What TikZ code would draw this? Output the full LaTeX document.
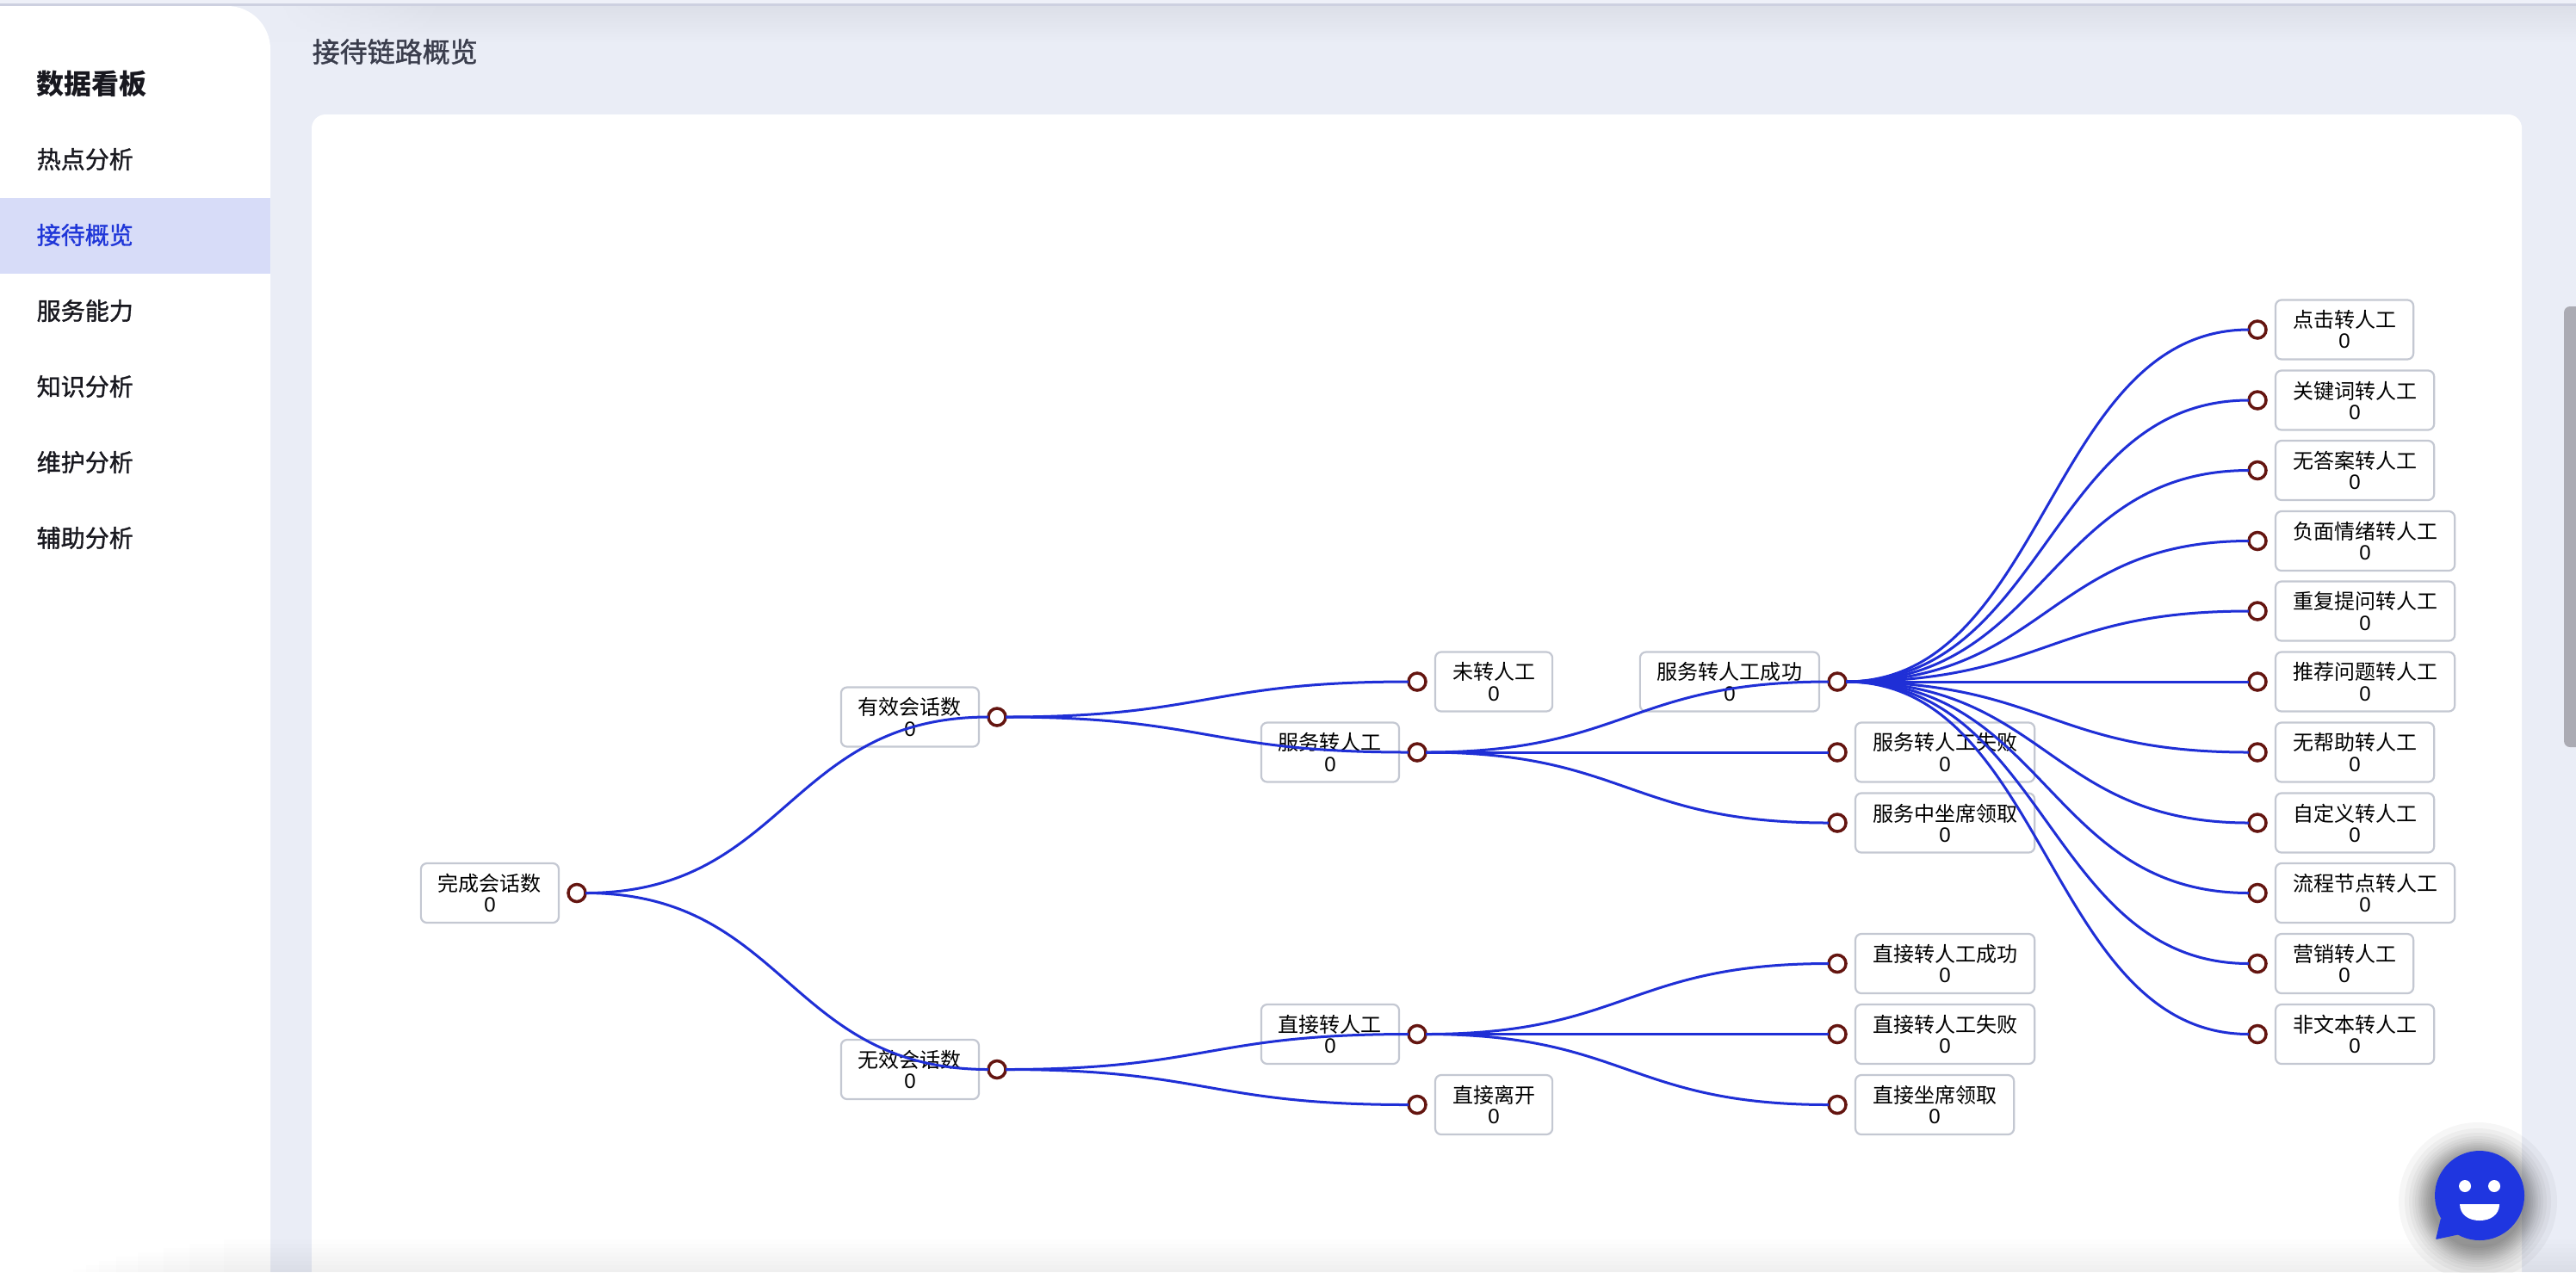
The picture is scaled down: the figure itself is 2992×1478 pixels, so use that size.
\documentclass[tikz,border=0pt]{standalone}
\usepackage{fontspec}
\setmainfont{Liberation Sans}
\newfontfamily\cjk{Noto Sans CJK SC}
\newfontfamily\cjkmed[FakeBold=1.2]{Noto Sans CJK SC}
\usepackage{tikz}
\usetikzlibrary{fadings}

\definecolor{pagebg}{HTML}{EAEDF6}
\definecolor{toplight}{HTML}{EEF0F8}
\definecolor{topline}{HTML}{CDD0E0}
\definecolor{topshade}{HTML}{DCDFE8}
\definecolor{barcol}{HTML}{ABABB3}
\definecolor{linkblue}{HTML}{1F2FD6}
\definecolor{dotred}{HTML}{641510}
\definecolor{boxgrey}{HTML}{C4C8D2}
\definecolor{activebg}{HTML}{D7DCF8}
\definecolor{activeblue}{HTML}{1F36D8}
\definecolor{iconblue}{HTML}{1F36E0}
\definecolor{menuink}{HTML}{18181F}
\definecolor{titleink}{HTML}{3A3D4C}

\newcommand{\zerotxt}{{\rmfamily 0}}

\tikzset{
    dot/.style={circle, draw=dotred, fill=white, line width=0.035cm, minimum size=0.2cm, inner sep=0pt, outer sep=0pt},
    tag/.style={rectangle, draw=boxgrey, line width=0.022cm, rounded corners=0.07cm, minimum height=0.69cm, inner xsep=0.2cm, inner ysep=0pt, outer sep=0pt, align=center, font=\fontsize{6.83pt}{6.83pt}\selectfont\cjk, text=black},
    link/.style={draw=linkblue, line width=0.03cm},
    menu/.style={anchor=west, inner sep=0pt, font=\fontsize{7.97pt}{9pt}\selectfont\cjkmed, text=menuink},
}

\begin{document}
\begin{tikzpicture}[x=0.01cm, y=-0.01cm]

    \useasboundingbox (0,0) rectangle (2992,1478);

    % page
    \fill[pagebg] (0,0) rectangle (2992,1478);
    \fill[toplight] (0,0) rectangle (2992,4);
    \fill[topline] (0,4) rectangle (2992,7);
    \shade[top color=topshade, bottom color=pagebg] (314,7) rectangle (2992,50);
    \fill[pagebg, path fading=east] (314,7) rectangle (520,50);
    \fill[white, rounded corners=0.5cm] (-100,7) rectangle (314,1600);
    \fill[white, rounded corners=0.16cm] (362,133) rectangle (2929,1600);
    \fill[barcol, rounded corners=0.07cm] (2978,356) rectangle (3006,868);
    \foreach \y/\x in {1440/260,1445/220,1450/190,1455/160,1460/135,1465/115,1470/100,1475/85}
        \fill[black, opacity=0.006] (\x,\y) rectangle (2992,1478);

    % side menu
    \fill[activebg] (0,230) rectangle (314,318);
    \draw(42,97) node[menu, font=\fontsize{9.1pt}{10pt}\selectfont\cjk\bfseries] (m0) {数据看板};
    \draw(42,185) node[menu] (m1) {热点分析};
    \draw(42,273) node[menu, text=activeblue] (m2) {接待概览};
    \draw(42,361) node[menu] (m3) {服务能力};
    \draw(42,449) node[menu] (m4) {知识分析};
    \draw(42,537) node[menu] (m5) {维护分析};
    \draw(42,625) node[menu] (m6) {辅助分析};
    \draw(362,60) node[menu, text=titleink, font=\fontsize{9.1pt}{10pt}\selectfont\cjkmed] (title) {接待链路概览};

    % dots
    \draw(670,1037.5) node[dot] (a) {};
    \draw(1158,833) node[dot] (b) {};
    \draw(1158,1242.5) node[dot] (c) {};
    \draw(1646,792) node[dot] (d) {};
    \draw(1646,874) node[dot] (e) {};
    \draw(1646,1201.5) node[dot] (f) {};
    \draw(1646,1283.5) node[dot] (g) {};
    \draw(2134,792) node[dot] (h) {};
    \draw(2134,874) node[dot] (i) {};
    \draw(2134,956) node[dot] (j) {};
    \draw(2134,1119.5) node[dot] (k) {};
    \draw(2134,1201.5) node[dot] (l) {};
    \draw(2134,1283.5) node[dot] (m) {};
    \draw(2622,383) node[dot] (n) {};
    \draw(2622,465) node[dot] (o) {};
    \draw(2622,546.5) node[dot] (p) {};
    \draw(2622,628.5) node[dot] (q) {};
    \draw(2622,710) node[dot] (r) {};
    \draw(2622,792) node[dot] (s) {};
    \draw(2622,874) node[dot] (t) {};
    \draw(2622,956) node[dot] (u) {};
    \draw(2622,1037.5) node[dot] (v) {};
    \draw(2622,1119.5) node[dot] (w) {};
    \draw(2622,1201.5) node[dot] (x) {};

    % labels
    \draw(649,1037.5) node[tag, anchor=east] (la) {完成会话数\\\zerotxt};
    \draw(1137,833) node[tag, anchor=east] (lb) {有效会话数\\\zerotxt};
    \draw(1137,1242.5) node[tag, anchor=east] (lc) {无效会话数\\\zerotxt};
    \draw(1667,792) node[tag, anchor=west] (ld) {未转人工\\\zerotxt};
    \draw(1625,874) node[tag, anchor=east] (le) {服务转人工\\\zerotxt};
    \draw(1625,1201.5) node[tag, anchor=east] (lf) {直接转人工\\\zerotxt};
    \draw(1667,1283.5) node[tag, anchor=west] (lg) {直接离开\\\zerotxt};
    \draw(2113,792) node[tag, anchor=east] (lh) {服务转人工成功\\\zerotxt};
    \draw(2155,874) node[tag, anchor=west] (li) {服务转人工失败\\\zerotxt};
    \draw(2155,956) node[tag, anchor=west] (lj) {服务中坐席领取\\\zerotxt};
    \draw(2155,1119.5) node[tag, anchor=west] (lk) {直接转人工成功\\\zerotxt};
    \draw(2155,1201.5) node[tag, anchor=west] (ll) {直接转人工失败\\\zerotxt};
    \draw(2155,1283.5) node[tag, anchor=west] (lm) {直接坐席领取\\\zerotxt};
    \draw(2643,383) node[tag, anchor=west] (ln) {点击转人工\\\zerotxt};
    \draw(2643,465) node[tag, anchor=west] (lo) {关键词转人工\\\zerotxt};
    \draw(2643,546.5) node[tag, anchor=west] (lp) {无答案转人工\\\zerotxt};
    \draw(2643,628.5) node[tag, anchor=west] (lq) {负面情绪转人工\\\zerotxt};
    \draw(2643,710) node[tag, anchor=west] (lr) {重复提问转人工\\\zerotxt};
    \draw(2643,792) node[tag, anchor=west] (ls) {推荐问题转人工\\\zerotxt};
    \draw(2643,874) node[tag, anchor=west] (lt) {无帮助转人工\\\zerotxt};
    \draw(2643,956) node[tag, anchor=west] (lu) {自定义转人工\\\zerotxt};
    \draw(2643,1037.5) node[tag, anchor=west] (lv) {流程节点转人工\\\zerotxt};
    \draw(2643,1119.5) node[tag, anchor=west] (lw) {营销转人工\\\zerotxt};
    \draw(2643,1201.5) node[tag, anchor=west] (lx) {非文本转人工\\\zerotxt};

    % links
    \draw[link] (a.east) .. controls +(233,0) and +(-233,0) .. (b.west);
    \draw[link] (a.east) .. controls +(233,0) and +(-233,0) .. (c.west);
    \draw[link] (b.east) .. controls +(233,0) and +(-233,0) .. (d.west);
    \draw[link] (b.east) .. controls +(233,0) and +(-233,0) .. (e.west);
    \draw[link] (c.east) .. controls +(233,0) and +(-233,0) .. (f.west);
    \draw[link] (c.east) .. controls +(233,0) and +(-233,0) .. (g.west);
    \draw[link] (e.east) .. controls +(233,0) and +(-233,0) .. (h.west);
    \draw[link] (e.east) .. controls +(233,0) and +(-233,0) .. (i.west);
    \draw[link] (e.east) .. controls +(233,0) and +(-233,0) .. (j.west);
    \draw[link] (f.east) .. controls +(233,0) and +(-233,0) .. (k.west);
    \draw[link] (f.east) .. controls +(233,0) and +(-233,0) .. (l.west);
    \draw[link] (f.east) .. controls +(233,0) and +(-233,0) .. (m.west);
    \draw[link] (h.east) .. controls +(233,0) and +(-233,0) .. (n.west);
    \draw[link] (h.east) .. controls +(233,0) and +(-233,0) .. (o.west);
    \draw[link] (h.east) .. controls +(233,0) and +(-233,0) .. (p.west);
    \draw[link] (h.east) .. controls +(233,0) and +(-233,0) .. (q.west);
    \draw[link] (h.east) .. controls +(233,0) and +(-233,0) .. (r.west);
    \draw[link] (h.east) .. controls +(233,0) and +(-233,0) .. (s.west);
    \draw[link] (h.east) .. controls +(233,0) and +(-233,0) .. (t.west);
    \draw[link] (h.east) .. controls +(233,0) and +(-233,0) .. (u.west);
    \draw[link] (h.east) .. controls +(233,0) and +(-233,0) .. (v.west);
    \draw[link] (h.east) .. controls +(233,0) and +(-233,0) .. (w.west);
    \draw[link] (h.east) .. controls +(233,0) and +(-233,0) .. (x.west);

    % chat button
    \foreach \r in {54,56,58,60,62,64,66,68,70,73,76,80,85,92}
        \fill[black, opacity=0.035] (2878,1396) circle[radius=\r];
    \fill[iconblue] (2880,1389) circle[radius=52];
    \fill[iconblue, rounded corners=0.01cm] (2835,1415) -- (2829,1440) -- (2857,1434) -- cycle;
    \fill[white] (2863,1378) circle[radius=7];
    \fill[white] (2897,1378) circle[radius=7];
    \fill[white] (2857,1399) -- (2903,1399) .. controls (2903,1411) and (2893,1418) .. (2880,1418) .. controls (2867,1418) and (2857,1411) .. (2857,1399) -- cycle;

\end{tikzpicture}
\end{document}
